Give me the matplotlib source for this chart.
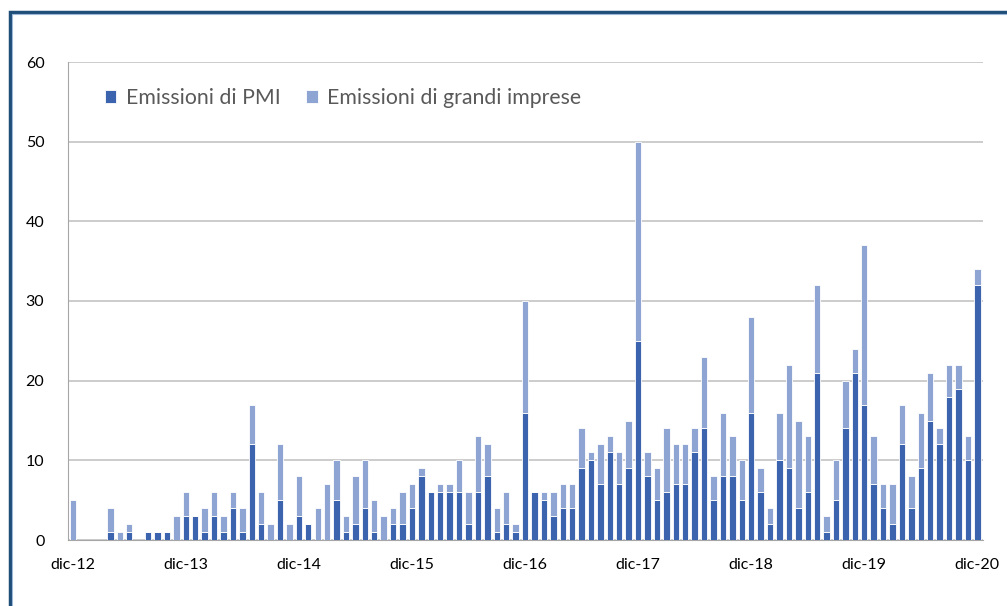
import numpy as np
import matplotlib
import matplotlib.pyplot as plt
from matplotlib.patches import Rectangle

matplotlib.use("Agg")
plt.rcParams["font.family"] = ["Lato", "DejaVu Sans"]

# Monthly issues, Dec 2012 .. Dec 2020 (97 months)
pmi = [0, 0, 0, 0, 1, 0, 1, 0, 1, 1, 1, 0,
       3, 3, 1, 3, 1, 4, 1, 12, 2, 0, 5, 0,
       3, 2, 0, 0, 5, 1, 2, 4, 1, 0, 2, 2,
       4, 8, 6, 6, 6, 6, 2, 6, 8, 1, 2, 1,
       16, 6, 5, 3, 4, 4, 9, 10, 7, 11, 7, 9,
       25, 8, 5, 6, 7, 7, 11, 14, 5, 8, 8, 5,
       16, 6, 2, 10, 9, 4, 6, 21, 1, 5, 14, 21,
       17, 7, 4, 2, 12, 4, 9, 15, 12, 18, 19, 10,
       32]
totale = [5, 0, 0, 0, 4, 1, 2, 0, 1, 1, 1, 3,
          6, 3, 4, 6, 3, 6, 4, 17, 6, 2, 12, 2,
          8, 2, 4, 7, 10, 3, 8, 10, 5, 3, 4, 6,
          7, 9, 6, 7, 7, 10, 6, 13, 12, 4, 6, 2,
          30, 6, 6, 6, 7, 7, 14, 11, 12, 13, 11, 15,
          50, 11, 9, 14, 12, 12, 14, 23, 8, 16, 13, 10,
          28, 9, 4, 16, 22, 15, 13, 32, 3, 10, 20, 24,
          37, 13, 7, 7, 17, 8, 16, 21, 14, 22, 22, 13,
          34]
grandi = [t - p for t, p in zip(totale, pmi)]

tick_labels = ["dic-12", "dic-13", "dic-14", "dic-15", "dic-16",
               "dic-17", "dic-18", "dic-19", "dic-20"]

C_PMI = "#3C64AE"
C_GRANDI = "#8EA5D3"

x = np.arange(len(pmi))

fig = plt.figure(figsize=(10.07, 6.06), dpi=100)
ax = fig.add_axes([68 / 1007, 66 / 606, (983 - 68) / 1007, (542 - 64) / 606])

ax.bar(x, pmi, width=0.68, color=C_PMI, edgecolor="white", linewidth=0.6,
       label="Emissioni di PMI", zorder=3)
ax.bar(x, grandi, width=0.68, bottom=pmi, color=C_GRANDI, edgecolor="white",
       linewidth=0.6, label="Emissioni di grandi imprese", zorder=3)

ax.set_xlim(-0.5, 96.6)
ax.set_ylim(0, 60)
ax.set_yticks(range(0, 61, 10))
ax.set_xticks(range(0, len(pmi), 12))
ax.set_xticklabels(tick_labels)
ax.tick_params(axis="both", length=0, labelsize=11.5, colors="black")
ax.tick_params(axis="y", pad=17)
ax.tick_params(axis="x", pad=13)
ax.grid(axis="y", color="#BFBFBF", linewidth=1.1, zorder=0)
for s in ["top", "right"]:
    ax.spines[s].set_visible(False)
ax.spines["left"].set_color("#A6A6A6")
ax.spines["bottom"].set_color("#A6A6A6")

ax.legend(loc="upper left", bbox_to_anchor=(0.019, 0.985), ncol=2, frameon=False,
          fontsize=15.3, handlelength=0.55, handleheight=0.55, handletextpad=0.45,
          columnspacing=1.2, labelcolor="#595959")

# outer frame (runs off the right/bottom edge like the source crop)
fig.patches.append(Rectangle((10 / 1007, -0.1), 1.2, (606 - 12) / 606 + 0.1,
                             transform=fig.transFigure, fill=False,
                             edgecolor="#1F4E79", linewidth=2.5))
fig.patches.append(Rectangle((11.8 / 1007, -0.1), 1.2, (606 - 13.8) / 606 + 0.1,
                             transform=fig.transFigure, fill=False,
                             edgecolor="#9DB9D9", linewidth=0.8))

fig.savefig("out.png", dpi=100)
